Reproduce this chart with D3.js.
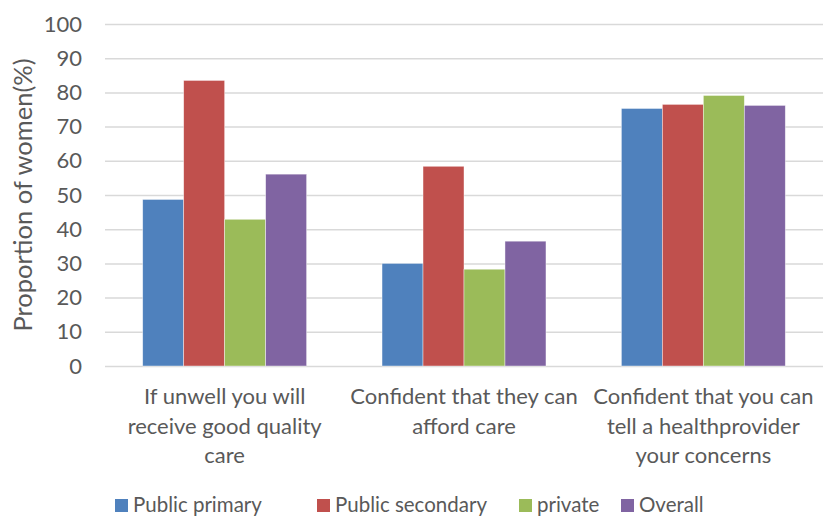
<!DOCTYPE html>
<html><head><meta charset="utf-8">
<script src="https://cdn.jsdelivr.net/npm/d3@7"></script>
<style>body{margin:0;background:#fff}svg{display:block}text{font-family:Lato,Carlito,sans-serif;fill:#595959}</style>
</head><body><svg id="c" width="823" height="517"></svg>
<script>
const categories = [
  ["If unwell you will","receive good quality","care"],
  ["Confident that they can","afford care"],
  ["Confident that you can","tell a healthprovider","your concerns"]
];
const seriesNames = ["Public primary","Public secondary","private","Overall"];
const colors = ["#4F81BD","#C0504D","#9BBB59","#8064A2"];
const publicPrimary = [48.7, 30.0, 75.3];
const publicSecondary = [83.5, 58.4, 76.5];
const privateVals = [42.9, 28.3, 79.1];
const overall = [56.1, 36.5, 76.2];
const series = [publicPrimary, publicSecondary, privateVals, overall];
const yTicks = [0,10,20,30,40,50,60,70,80,90,100];

(function(){
const svg = d3.select("#c");
const mLeft = 105, mRight = 823, mTop = 24, mBottom = 366;
const x0 = d3.scaleBand().domain(d3.range(categories.length)).range([mLeft, mRight]).paddingInner(0.315).paddingOuter(0.1575);
const x1 = d3.scaleBand().domain(d3.range(series.length)).range([0, x0.bandwidth()]);
const y = d3.scaleLinear().domain([0,100]).range([mBottom, mTop]);

const yAxis = svg.append("g").attr("transform",`translate(${mLeft},0)`)
  .call(d3.axisLeft(y).tickValues(yTicks).tickSize(-(mRight-mLeft)).tickPadding(23));
yAxis.select(".domain").remove();
yAxis.selectAll(".tick line").attr("stroke","#d9d9d9").attr("stroke-width",1.5);
yAxis.selectAll(".tick text").attr("font-size",22).style("font-family",'Lato,Carlito,sans-serif').attr("fill","#595959");

const g = svg.append("g");
categories.forEach((c, ci) => {
  series.forEach((s, si) => {
    g.append("rect")
      .attr("x", x0(ci) + x1(si))
      .attr("y", y(s[ci]))
      .attr("width", x1.bandwidth())
      .attr("height", y(0) - y(s[ci]))
      .attr("fill", colors[si])
      .attr("stroke", "#fff").attr("stroke-opacity",0.6).attr("stroke-width", 0.7);
  });
  const cx = x0(ci) + x0.bandwidth()/2;
  const t = svg.append("text").attr("text-anchor","middle").attr("font-size",22);
  c.forEach((line, li) => {
    t.append("tspan").attr("x", cx).attr("y", 404 + li*29.5).text(line);
  });
});

svg.append("text").attr("transform","translate(32,195) rotate(-90)")
  .attr("text-anchor","middle").attr("font-size",25.5).text("Proportion of women(%)");

const legendX = [115, 317, 519, 621];
seriesNames.forEach((n, i) => {
  svg.append("rect").attr("x", legendX[i]).attr("y", 499).attr("width", 13).attr("height", 13).attr("fill", colors[i]);
  svg.append("text").attr("x", legendX[i] + 18).attr("y", 512).attr("font-size",20.5).text(n);
});
})();
</script></body></html>
